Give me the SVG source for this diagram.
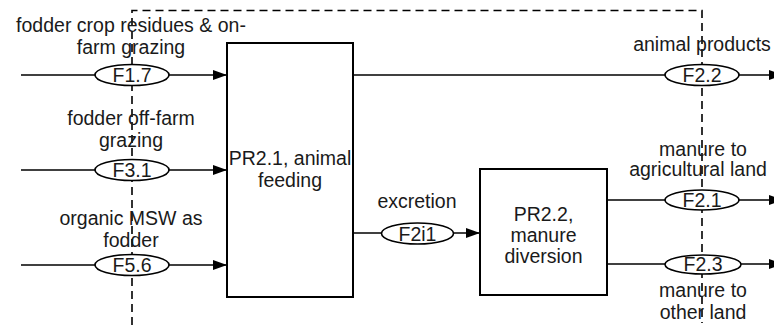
<svg xmlns="http://www.w3.org/2000/svg" width="774" height="325" viewBox="0 0 774 325">
  <style>
    .flow { fill: none; stroke: #000; stroke-width: 1.6; }
    .boundary { fill: none; stroke: #000; stroke-width: 1.6; stroke-dasharray: 8 5; }
    .proc { fill: #fff; stroke: #000; stroke-width: 2; }
    .tag { fill: #fff; stroke: #000; stroke-width: 1.6; }
    text { font-family: "Liberation Sans", Arial, sans-serif; font-size: 19.5px; fill: #1a1a1a; text-anchor: middle; }
  </style>
  <defs>
    <marker id="arrow" markerUnits="userSpaceOnUse" markerWidth="14" markerHeight="10" refX="14" refY="5" orient="auto">
      <path d="M0,0 L14,5 L0,10 Z" fill="#000"/>
    </marker>
  </defs>
  <rect width="774" height="325" fill="#fff"/>

  <!-- flows -->
  <g id="connectors">
    <line class="flow" x1="21" y1="75" x2="227" y2="75" marker-end="url(#arrow)"/>
    <line class="flow" x1="21" y1="170" x2="227" y2="170" marker-end="url(#arrow)"/>
    <line class="flow" x1="21" y1="265" x2="227" y2="265" marker-end="url(#arrow)"/>
    <line class="flow" x1="353" y1="75" x2="783" y2="75" marker-end="url(#arrow)"/>
    <line class="flow" x1="353" y1="233" x2="480" y2="233" marker-end="url(#arrow)"/>
    <line class="flow" x1="607" y1="200" x2="783" y2="200" marker-end="url(#arrow)"/>
    <line class="flow" x1="607" y1="264" x2="783" y2="264" marker-end="url(#arrow)"/>
    <!-- system boundary -->
    <path class="boundary" d="M132,325 V10.5 H702 V323"/>
  </g>

  <g id="PR2.1">
    <rect class="proc" x="227" y="43" width="126" height="254"/>
    <text x="290" y="165">PR2.1, animal</text>
    <text x="290" y="187">feeding</text>
  </g>

  <g id="PR2.2">
    <rect class="proc" x="480" y="169" width="127" height="126"/>
    <text x="543.5" y="221">PR2.2,</text>
    <text x="543.5" y="242">manure</text>
    <text x="543.5" y="263">diversion</text>
  </g>

  <g id="F1.7">
    <text x="131" y="32">fodder crop residues &amp; on-</text>
    <text x="131" y="54">farm grazing</text>
    <ellipse class="tag" cx="132" cy="75" rx="37" ry="10.5"/>
    <text x="132" y="82">F1.7</text>
  </g>

  <g id="F3.1">
    <text x="131" y="125">fodder off-farm</text>
    <text x="131" y="147">grazing</text>
    <ellipse class="tag" cx="132" cy="170" rx="37" ry="10.5"/>
    <text x="132" y="177">F3.1</text>
  </g>

  <g id="F5.6">
    <text x="131" y="225">organic MSW as</text>
    <text x="131" y="247">fodder</text>
    <ellipse class="tag" cx="132" cy="265" rx="37" ry="10.5"/>
    <text x="132" y="272">F5.6</text>
  </g>

  <g id="F2i1">
    <text x="417" y="208">excretion</text>
    <ellipse class="tag" cx="417.5" cy="233.5" rx="36" ry="10.5"/>
    <text x="417.5" y="240.5">F2i1</text>
  </g>

  <g id="F2.2">
    <text x="702" y="51">animal products</text>
    <ellipse class="tag" cx="702" cy="75" rx="37" ry="10.5"/>
    <text x="702" y="82">F2.2</text>
  </g>

  <g id="F2.1">
    <text x="703" y="156">manure to</text>
    <text x="698" y="176">agricultural land</text>
    <ellipse class="tag" cx="702" cy="200" rx="37" ry="10"/>
    <text x="702" y="207">F2.1</text>
  </g>

  <g id="F2.3">
    <ellipse class="tag" cx="703" cy="264.5" rx="38" ry="9.5"/>
    <text x="703" y="271">F2.3</text>
    <text x="703" y="297">manure to</text>
    <text x="703" y="319">other land</text>
  </g>
</svg>
